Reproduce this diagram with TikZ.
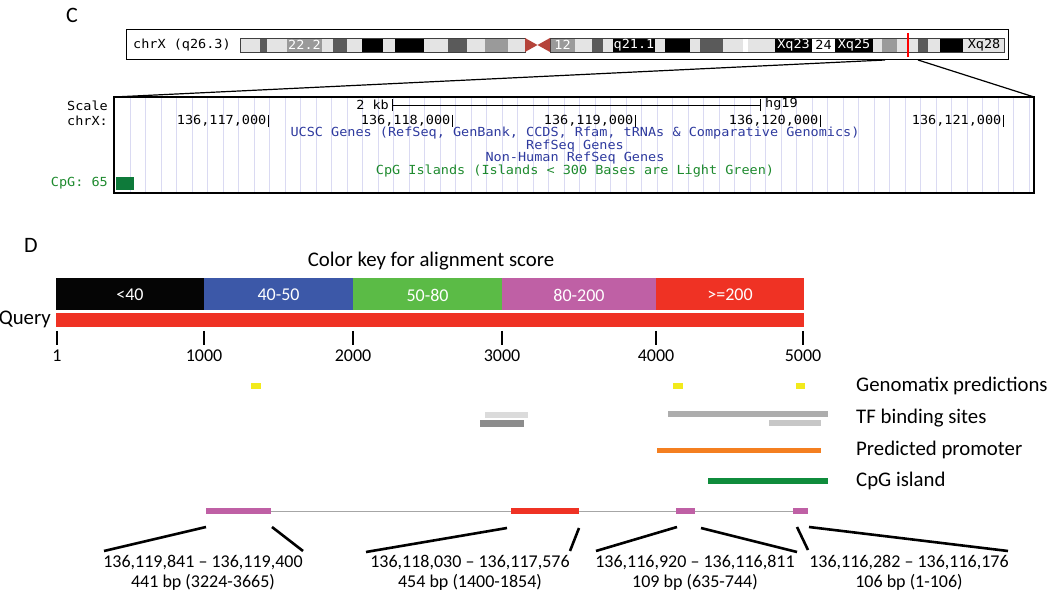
\documentclass[tikz,border=0pt]{standalone}
\usepackage{fontspec}
\setmainfont{Carlito}
\newfontfamily\ucscfont[FakeStretch=1.08]{DejaVu Sans Mono}
\usetikzlibrary{positioning,calc}

\definecolor{keyblack}{HTML}{050505}
\definecolor{keyblue}{HTML}{3C58A8}
\definecolor{keygreen}{HTML}{5BBB46}
\definecolor{keymag}{HTML}{BF60A5}
\definecolor{keyred}{HTML}{EF3224}
\definecolor{ucscblue}{HTML}{2E3A9E}
\definecolor{ucscgreen}{HTML}{1E8A2E}
\definecolor{cpgbox}{HTML}{0E7A3A}
\definecolor{gridlav}{HTML}{DADAF2}
\definecolor{bandL}{HTML}{E4E4E4}
\definecolor{bandD}{HTML}{5A5A5A}
\definecolor{bandM}{HTML}{9A9A9A}
\definecolor{bandK}{HTML}{000000}
\definecolor{centro}{HTML}{B5433A}
\definecolor{gmxyellow}{HTML}{F2EA1C}
\definecolor{promorange}{HTML}{F47F20}
\definecolor{islandgreen}{HTML}{0F8C3C}

\tikzset{
  ucsc/.style={font=\ucscfont\fontsize{12.5}{13}\selectfont, inner sep=0pt},
  lbl/.style={font=\fontsize{18}{20}\selectfont, inner sep=0pt},
  lblbig/.style={font=\fontsize{20.8}{22}\selectfont, inner sep=0pt},
  exon/.style={inner sep=0pt, minimum height=5.5pt},
  pointer/.style={line width=2.6pt},
}

\begin{document}
\begin{tikzpicture}[x=1pt, y=-1pt]
    \useasboundingbox (0,0) rectangle (1050,593);

    % Panel letters
    \node[lbl, font=\fontsize{22}{24}\selectfont] (panelC) at (72,15) {C};
    \node[lbl, font=\fontsize{22}{24}\selectfont] (panelD) at (31,245) {D};

    % Ideogram
    \draw[line width=1pt] (126,30) rectangle (1008,60);
    \node[ucsc, anchor=west] (chrname) at (133,45) {chrX (q26.3)};
    \foreach \a/\b/\c in {240/260/bandL, 260/267/bandD, 267/287/bandL, 287/322/bandM,
        322/333/bandL, 333/347/bandD, 347/362/bandL, 362/383/bandK, 383/395/bandL,
        395/424/bandK, 424/448/bandL, 448/467/bandD, 467/485/bandL, 485/508/bandM,
        508/525/bandL, 550/575/bandM, 575/592/bandL, 592/603/bandD, 603/613/bandL,
        613/655/bandK, 655/665/bandL, 665/690/bandK, 690/700/bandL, 700/723/bandD,
        723/743/bandL, 748/775/bandL, 775/812/bandK, 812/835/white, 835/873/bandK,
        873/882/bandL, 882/897/bandM, 897/918/bandL, 918/928/bandD, 928/940/bandL,
        940/963/bandK, 963/1004/bandL}
        \fill[\c] (\a,38) rectangle (\b,52);
    \draw[black!75, line width=0.6pt] (240,38) rectangle (525,52);
    \draw[black!75, line width=0.6pt] (550,38) rectangle (1004,52);
    \fill[centro] (525,38) -- (537.5,45) -- (525,52) -- cycle;
    \fill[centro] (550,38) -- (537.5,45) -- (550,52) -- cycle;

    % Band names
    \node[ucsc, white] (b222) at (304.5,45) {22.2};
    \node[ucsc, white] (b12) at (562.5,45) {12};
    \node[ucsc, white] (b211) at (634,45) {q21.1};
    \node[ucsc, white] (b23) at (793.5,45) {Xq23};
    \node[ucsc] (b24) at (823.5,45) {24};
    \node[ucsc, white] (b25) at (854,45) {Xq25};
    \node[ucsc] (b28) at (984,45) {Xq28};

    % Position marker
    \draw[red, line width=2pt] (908,33) -- (908,57);

    % Zoom lines
    \coordinate (zoomL) at (885,60);
    \coordinate (zoomR) at (918,60);
    \coordinate (browserNW) at (114,97);
    \coordinate (browserNE) at (1034,97);
    \draw[line width=1.2pt] (zoomL) -- (browserNW);
    \draw[line width=1.2pt] (zoomR) -- (browserNE);

    % Browser window
    \foreach \i in {0,...,58}
        \draw[gridlav, line width=0.8pt] ({130+15.5*\i},98) -- ({130+15.5*\i},192);
    \draw[line width=1.8pt] (browserNW) rectangle (1034,193);

    % Scale
    \node[ucsc, anchor=east] (scalelbl) at (108,106) {Scale};
    \node[ucsc, anchor=east] (chrlbl) at (108,121) {chrX:};
    \node[ucsc, anchor=east] (kb) at (389,105) {2 kb};
    \draw[line width=0.8pt] (392,105) -- (760,105);
    \draw[line width=0.8pt] (392,99) -- (392,111);
    \draw[line width=0.8pt] (760,99) -- (760,111);
    \node[ucsc, anchor=west] (hg) at (765,104) {hg19};

    % Base positions
    \foreach \t/\n in {268/117, 452/118, 635/119, 820/120, 1003/121} {
        \node[ucsc, anchor=east] (pos\n) at (\t-1.5,121) {136,\n,000};
        \draw[line width=0.8pt] (\t,115) -- (\t,127);
    }

    % Track names
    \node[ucsc, ucscblue] (ucscgenes) at (575,133) {UCSC Genes (RefSeq, GenBank, CCDS, Rfam, tRNAs \& Comparative Genomics)};
    \node[ucsc, ucscblue] (refseq) at (575,146) {RefSeq Genes};
    \node[ucsc, ucscblue] (nonhuman) at (575,158) {Non-Human RefSeq Genes};
    \node[ucsc, ucscgreen] (cpgisl) at (575,171) {CpG Islands (Islands < 300 Bases are Light Green)};
    \node[ucsc, ucscgreen, anchor=east] (cpglbl) at (108,183) {CpG: 65};
    \fill[cpgbox] (116,177) rectangle (134,190);

    % Color key
    \node[lblbig] (keytitle) at (431,261) {Color key for alignment score};
    \foreach \a/\b/\c/\t in {56/204/keyblack/{<40}, 204/353/keyblue/{40-50},
        353/502/keygreen/{50-80}, 502/656/keymag/{80-200}, 656/804/keyred/{>=200}} {
        \fill[\c] (\a,278) rectangle (\b,310);
        \node[lbl, white] at ({(\a+\b)/2},295) {\t};
    }

    % Query
    \fill[keyred] (56,313) rectangle (804,327);
    \node[lblbig, anchor=east] (query) at (51,319) {Query};
    \foreach \x/\l in {57/1, 204/1000, 353/2000, 502/3000, 656/4000, 803/5000} {
        \draw[line width=2.6pt] (\x,331) -- (\x,345);
        \node[lbl] at (\x,356) {\l};
    }

    % Tracks
    \fill[gmxyellow] (251,383) rectangle (261,389);
    \fill[gmxyellow] (673,383) rectangle (683,389);
    \fill[gmxyellow] (796,383) rectangle (805,389);
    \fill[black!14] (485,412) rectangle (528,418);
    \fill[black!45] (480,420) rectangle (524,427);
    \fill[black!32] (668,411) rectangle (828,417);
    \fill[black!22] (769,420) rectangle (821,426);
    \fill[promorange] (657,448) rectangle (821,453.5);
    \fill[islandgreen] (708,478) rectangle (828,484);

    \node[lblbig, anchor=west] (gmx) at (856,386) {Genomatix predictions};
    \node[lblbig, anchor=west] (tfbs) at (856,418) {TF binding sites};
    \node[lblbig, anchor=west] (prom) at (856,450) {Predicted promoter};
    \node[lblbig, anchor=west] (cpg) at (856,481) {CpG island};

    % Gene model
    \draw[black!35, line width=1pt] (206,511) -- (808,511);
    \node[exon, fill=keymag, minimum width=65pt] (ex1) at (238.5,511) {};
    \node[exon, fill=keyred, minimum width=68pt] (ex2) at (545,511) {};
    \node[exon, fill=keymag, minimum width=19pt] (ex3) at (685.5,511) {};
    \node[exon, fill=keymag, minimum width=15pt] (ex4) at (800.5,511) {};

    % Exon coordinates
    \node[lbl, align=center] (loc1) at (203,573) {136,119,841 – 136,119,400\\441 bp (3224-3665)};
    \node[lbl, align=center] (loc2) at (470,573) {136,118,030 – 136,117,576\\454 bp (1400-1854)};
    \node[lbl, align=center] (loc3) at (695,573) {136,116,920 – 136,116,811\\109 bp (635-744)};
    \node[lbl, align=center] (loc4) at (909,573) {136,116,282 – 136,116,176\\106 bp (1-106)};

    % Pointers
    \coordinate (p1a) at (206,527); \coordinate (q1a) at (104,551);
    \coordinate (p1b) at (272,527); \coordinate (q1b) at (303,551);
    \coordinate (p2a) at (507,528); \coordinate (q2a) at (366,552);
    \coordinate (p2b) at (579,528); \coordinate (q2b) at (570,551);
    \coordinate (p3a) at (677,527); \coordinate (q3a) at (596,551);
    \coordinate (p3b) at (701,528); \coordinate (q3b) at (797,552);
    \coordinate (p4a) at (797,527); \coordinate (q4a) at (808,550);
    \coordinate (p4b) at (809,527); \coordinate (q4b) at (1008,551);
    \foreach \i in {1,2,3,4} {
        \draw[pointer] (p\i a) -- (q\i a);
        \draw[pointer] (p\i b) -- (q\i b);
    }
\end{tikzpicture}
\end{document}
